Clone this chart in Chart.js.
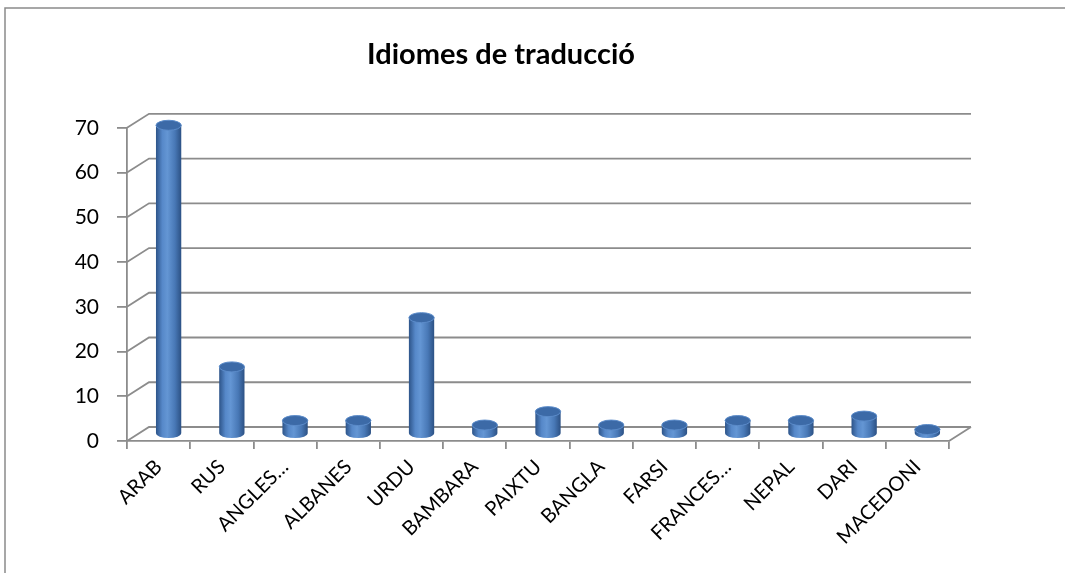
<!DOCTYPE html>
<html>
<head>
<meta charset="utf-8">
<script src="https://cdn.jsdelivr.net/npm/chart.js@4"></script>
<style>
  html, body { margin: 0; padding: 0; background: #fff; }
  #wrap { position: relative; width: 1065px; height: 573px; }
</style>
</head>
<body>
<div id="wrap"><canvas id="myChart" width="1065" height="573"></canvas></div>
<script>
// categories + values
const languages = ["ARAB", "RUS", "ANGLES…", "ALBANES", "URDU", "BAMBARA", "PAIXTU", "BANGLA", "FARSI", "FRANCES…", "NEPAL", "DARI", "MACEDONI"];
const counts = [69, 15, 3, 3, 26, 2, 5, 2, 2, 3, 3, 4, 1];
const yTicks = [0, 10, 20, 30, 40, 50, 60, 70];

const GRID = "#8c8c8c";
const DEPTH_X = 22, DEPTH_Y = -14; // 3d wall offset

// back wall, floor and the slanted grid lines
const wallPlugin = {
  id: "wall",
  beforeDatasetsDraw(chart) {
    const { ctx, chartArea: a, scales: { y } } = chart;
    ctx.save();
    ctx.strokeStyle = GRID;
    ctx.lineWidth = 1.8;
    ctx.beginPath();
    yTicks.forEach((v) => {
      const py = y.getPixelForValue(v);
      ctx.moveTo(a.left, py);
      ctx.lineTo(a.left + DEPTH_X, py + DEPTH_Y);
      ctx.lineTo(a.right + DEPTH_X, py + DEPTH_Y);
    });
    // right edge of floor
    ctx.moveTo(a.right, a.bottom);
    ctx.lineTo(a.right + DEPTH_X, a.bottom + DEPTH_Y);
    ctx.stroke();
    ctx.restore();
  },
  afterDatasetsDraw(chart) {
    const { ctx } = chart;
    const meta = chart.getDatasetMeta(0);
    const dx = DEPTH_X / 2 - 1, dy = DEPTH_Y / 2;
    ctx.save();
    meta.data.forEach((bar) => {
      const cx = bar.x + dx;
      const rx = bar.width / 2;
      const ry = 5;
      const top = bar.y + dy;
      const base = bar.base + dy;
      const g = ctx.createLinearGradient(cx - rx, 0, cx + rx, 0);
      g.addColorStop(0, "#2d5489");
      g.addColorStop(0.25, "#5688c9");
      g.addColorStop(0.45, "#6496d4");
      g.addColorStop(0.75, "#4878b6");
      g.addColorStop(1, "#2c5184");
      ctx.fillStyle = g;
      ctx.beginPath();
      ctx.moveTo(cx - rx, top);
      ctx.lineTo(cx - rx, base);
      ctx.ellipse(cx, base, rx, ry, 0, Math.PI, 0, true);
      ctx.lineTo(cx + rx, top);
      ctx.closePath();
      ctx.fill();
      // top cap
      ctx.beginPath();
      ctx.ellipse(cx, top, rx, ry, 0, 0, Math.PI * 2);
      ctx.fillStyle = "#3c6aa7";
      ctx.fill();
      ctx.strokeStyle = "#5b8bc9";
      ctx.lineWidth = 1;
      ctx.stroke();
    });
    ctx.restore();
  },
  afterDraw(chart) {
    // outer chart border, cut off right and bottom like in the screenshot
    const { ctx } = chart;
    ctx.save();
    ctx.strokeStyle = "#8a8a8a";
    ctx.lineWidth = 1.5;
    ctx.strokeRect(5, 8, 1200, 700);
    ctx.restore();
  }
};

const ctx = document.getElementById("myChart").getContext("2d");
new Chart(ctx, {
  type: "bar",
  data: {
    labels: languages,
    datasets: [
      {
        label: "Idiomes",
        data: counts,
        backgroundColor: "rgba(0,0,0,0)",
        borderWidth: 0,
        categoryPercentage: 0.8,
        barPercentage: 0.5,
      },
    ],
  },
  options: {
    responsive: false,
    animation: false,
    layout: { padding: { left: 53, right: 116, top: 0, bottom: 0 } },
    plugins: {
      legend: { display: false },
      tooltip: { enabled: false },
      title: {
        display: true,
        text: "Idiomes de traducció",
        color: "#000",
        font: { family: "Lato", size: 29, weight: "bold" },
        padding: { top: 37, bottom: 56 },
      },
    },
    scales: {
      x: {
        afterFit: (s) => { s.height = 132; },
        grid: { display: true, drawOnChartArea: false, offset: true, color: GRID, lineWidth: 1.8, tickLength: 8 },
        border: { display: true, color: GRID, width: 1.8 },
        ticks: {
          autoSkip: false,
          minRotation: 45,
          maxRotation: 45,
          padding: 6,
          color: "#000",
          font: { family: "Lato", size: 20 },
        },
      },
      y: {
        min: 0,
        max: 70,
        afterFit: (s) => { s.width = 74; },
        afterBuildTicks: (s) => { s.ticks = yTicks.map((v) => ({ value: v })); },
        grid: { display: true, drawOnChartArea: false, color: GRID, lineWidth: 1.8, tickLength: 10 },
        border: { display: true, color: GRID, width: 1.8 },
        ticks: {
          padding: 18,
          color: "#000",
          font: { family: "Lato", size: 21 },
        },
      },
    },
  },
  plugins: [wallPlugin],
});
</script>
</body>
</html>
